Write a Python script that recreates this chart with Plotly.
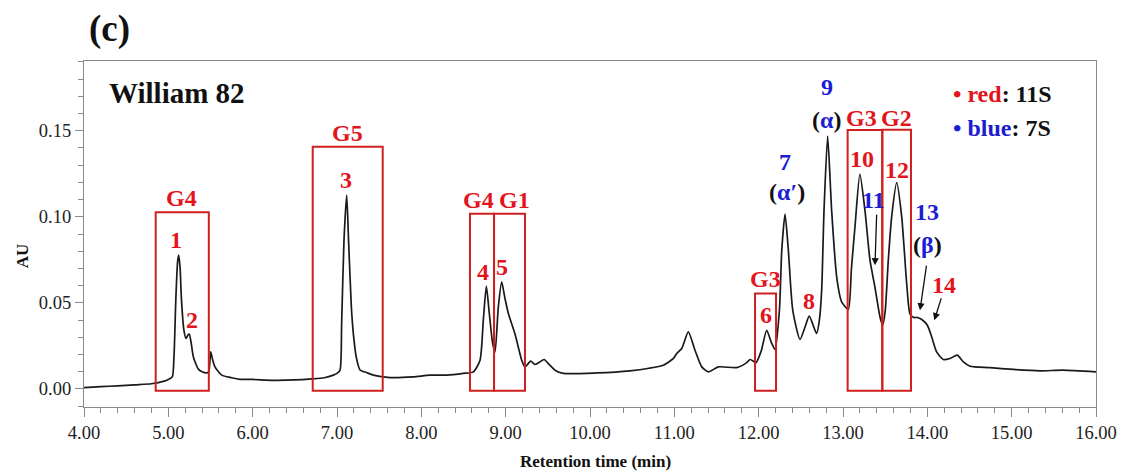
import plotly.graph_objects as go

# ---- chromatogram trace (retention time, absorbance) ----
time_min = [4.00, 4.20, 4.40, 4.60, 4.80, 4.95, 5.00, 5.047, 5.067, 5.09, 5.11, 5.123, 5.14, 5.154,
            5.185, 5.21, 5.235, 5.249, 5.27, 5.297, 5.356, 5.40, 5.455, 5.48, 5.502, 5.525, 5.553,
            5.633, 5.75, 5.85, 6.00, 6.25, 6.50, 6.70, 6.85, 6.957, 7.00, 7.036, 7.055, 7.083,
            7.115, 7.137, 7.17, 7.194, 7.23, 7.273, 7.35, 7.43, 7.63, 7.905, 8.10, 8.30, 8.498,
            8.617, 8.696, 8.735, 8.771, 8.806, 8.846, 8.874, 8.913, 8.953, 8.99, 9.032, 9.11,
            9.19, 9.229, 9.297, 9.347, 9.40, 9.455, 9.52, 9.585, 9.684, 10.08, 10.475, 10.70,
            10.87, 10.99, 11.028, 11.088, 11.166, 11.245, 11.325, 11.404, 11.522, 11.74, 11.85,
            11.90, 11.968, 12.03, 12.095, 12.15, 12.194, 12.246, 12.274, 12.313, 12.352, 12.404,
            12.49, 12.55, 12.60, 12.687, 12.72, 12.747, 12.775, 12.818, 12.865, 12.925, 12.984,
            13.063, 13.10, 13.142, 13.20, 13.26, 13.32, 13.378, 13.438, 13.47, 13.50, 13.537,
            13.577, 13.637, 13.696, 13.755, 13.795, 13.84, 13.882, 13.934, 14.00, 14.052, 14.11,
            14.19, 14.27, 14.355, 14.427, 14.506, 14.743, 15.02, 15.336, 15.61, 16.00]
absorbance = [0.0008, 0.0013, 0.0018, 0.0024, 0.0030, 0.0045, 0.0055, 0.0070, 0.0186, 0.0535,
              0.0740, 0.0777, 0.0700, 0.0535, 0.0340, 0.0293, 0.0315, 0.0318, 0.0270, 0.0186,
              0.0115, 0.0100, 0.0093, 0.0100, 0.0215, 0.0170, 0.0128, 0.0080, 0.0065, 0.0056,
              0.0055, 0.0050, 0.0052, 0.0058, 0.0065, 0.0080, 0.0090, 0.0109, 0.0380, 0.0864,
              0.1126, 0.0864, 0.0477, 0.0320, 0.0180, 0.0110, 0.0095, 0.0080, 0.0066, 0.0070,
              0.0080, 0.0080, 0.0090, 0.0099, 0.0167, 0.0400, 0.0597, 0.0438, 0.0264, 0.0215,
              0.0477, 0.0622, 0.0530, 0.0438, 0.0320, 0.0167, 0.0128, 0.0161, 0.0142, 0.0155,
              0.0171, 0.0140, 0.0109, 0.0090, 0.0093, 0.0105, 0.0120, 0.0138, 0.0177, 0.0206,
              0.0235, 0.0331, 0.0225, 0.0128, 0.0099, 0.0128, 0.0124, 0.0150, 0.0171, 0.0153,
              0.0220, 0.0341, 0.0270, 0.0229, 0.0458, 0.0806, 0.1016, 0.0806, 0.0458, 0.0287,
              0.0360, 0.0423, 0.0322, 0.0400, 0.0574, 0.1039, 0.1469, 0.1039, 0.0651, 0.0506,
              0.0462, 0.0700, 0.0942, 0.1248, 0.1039, 0.0748, 0.0593, 0.0419, 0.0370, 0.0450,
              0.0748, 0.1000, 0.1198, 0.1000, 0.0613, 0.0434, 0.0415, 0.0415, 0.0403, 0.0370,
              0.0302, 0.0215, 0.0171, 0.0177, 0.0196, 0.0157, 0.0132, 0.0124, 0.0113, 0.0105,
              0.0109, 0.0099]

# ---- axis ticks ----
x_tick_vals = [4, 5, 6, 7, 8, 9, 10, 11, 12, 13, 14, 15, 16]
x_tick_text = ["4.00", "5.00", "6.00", "7.00", "8.00", "9.00", "10.00", "11.00", "12.00",
               "13.00", "14.00", "15.00", "16.00"]
y_tick_vals = [0.0, 0.05, 0.10, 0.15]
y_tick_text = ["0.00", "0.05", "0.10", "0.15"]

# ---- glycinin group windows (red boxes) ----
group_names = ["G4", "G5", "G4", "G1", "G3", "G3", "G2"]
group_start = [4.85, 6.712, 8.577, 8.862, 11.957, 13.055, 13.466]
group_end = [5.48, 7.542, 8.862, 9.229, 12.206, 13.466, 13.806]
group_top = [0.1026, 0.1407, 0.1017, 0.1017, 0.0555, 0.1504, 0.1506]

# ---- peak labels ----
peak_ids = ["1", "2", "3", "4", "5", "6", "7", "8", "9", "10", "11", "12", "13", "14"]
peak_fraction = ["11S", "11S", "11S", "11S", "11S", "11S", "7S", "11S", "7S", "11S", "7S",
                 "11S", "7S", "11S"]
peak_subunit = {"7": "α′", "9": "α", "13": "β"}

RED = "#e3141b"
BOX_RED = "#d01f1f"
BLUE = "#1c1cd2"
FONT = "Liberation Serif, Times New Roman, serif"

# page geometry (the page body has an 8px margin, compensated below)
PAGE_OFF = 8
W, H = 1141 - PAGE_OFF, 472 - PAGE_OFF
L, R, T, B = 84, 1096, 61, 406.7          # plot area in window pixels
X0, X1 = 4.0, 16.0
Y0, Y1 = -0.0105, 0.1905


def px_x(px):
    return X0 + (px - L) / (R - L) * (X1 - X0)


def px_y(py):
    return Y0 + (B - py) / (B - T) * (Y1 - Y0)


def paper_x(px):
    return (px - L) / (R - L)


def paper_y(py):
    return (B - py) / (B - T)


fig = go.Figure()
fig.add_trace(go.Scatter(x=time_min, y=absorbance, mode="lines",
                         line=dict(color="#1a1a1a", width=1.7, shape="spline", smoothing=0.6),
                         hoverinfo="x+y", showlegend=False))

shapes = []
for g0, g1, gt in zip(group_start, group_end, group_top):
    shapes.append(dict(type="rect", xref="x", yref="y", x0=g0, x1=g1, y0=-0.001, y1=gt,
                       line=dict(color=BOX_RED, width=2), fillcolor="rgba(0,0,0,0)", layer="above"))

ann = []


def label(text, px, py, size=24, color=RED):
    ann.append(dict(text="<b>" + text + "</b>", x=px_x(px), y=px_y(py), xref="x", yref="y",
                    showarrow=False, font=dict(family=FONT, size=size, color=color),
                    xanchor="center", yanchor="middle"))


# group labels above boxes
group_label_px = [(181, 198.3), (347, 133.3), (478.6, 200), (514.6, 200), (765.4, 279.3),
                  (861.7, 118.3), (896.7, 118.3)]
for name, (px, py) in zip(group_names, group_label_px):
    label(name, px, py)

# peak number labels
peak_label_px = {"1": (175.7, 240), "2": (191.8, 319.3), "3": (345.7, 180), "4": (482.9, 271.7),
                 "5": (501.8, 266.7), "6": (765.6, 315), "7": (785, 161.7), "8": (809.4, 300.7),
                 "9": (827.3, 86.7), "10": (861.7, 159.3), "11": (873.4, 200),
                 "12": (897.2, 170), "13": (927.3, 211.7), "14": (944, 285)}
subunit_px = {"7": (786.7, 191.7), "9": (826, 120), "13": (927.3, 245)}
for pid, frac in zip(peak_ids, peak_fraction):
    px, py = peak_label_px[pid]
    label(pid, px, py, color=RED if frac == "11S" else BLUE)
    if pid in peak_subunit:
        sx, sy = subunit_px[pid]
        label("(<span style='color:%s'>%s</span>)" % (BLUE, peak_subunit[pid]), sx, sy,
              color="#111111")

# arrows for 11, 13, 14
for (tx, ty), (hx, hy) in [((876.7, 213), (875, 265)), ((926.7, 264), (920, 310)),
                           ((941.7, 296.7), (934.3, 320))]:
    ann.append(dict(x=px_x(hx), y=px_y(hy), ax=px_x(tx), ay=px_y(ty), xref="x", yref="y",
                    axref="x", ayref="y", showarrow=True, arrowhead=2, arrowsize=1.1,
                    arrowwidth=1.3, arrowcolor="#111111", text=""))

# legend text
ann.append(dict(text="<b><span style='color:%s'>• red</span>: 11S</b>" % RED,
                x=paper_x(951), y=paper_y(94.3), xref="paper", yref="paper", showarrow=False,
                xanchor="left", yanchor="middle", font=dict(family=FONT, size=24, color="#111111")))
ann.append(dict(text="<b><span style='color:%s'>• blue</span>: 7S</b>" % BLUE,
                x=paper_x(951), y=paper_y(128.3), xref="paper", yref="paper", showarrow=False,
                xanchor="left", yanchor="middle", font=dict(family=FONT, size=24, color="#111111")))

# sample name
ann.append(dict(text="<b>William 82</b>", x=paper_x(107), y=paper_y(93.3), xref="paper",
                yref="paper", showarrow=False, xanchor="left", yanchor="middle",
                font=dict(family=FONT, size=29, color="#111111")))
# panel letter
ann.append(dict(text="<b>(c)</b>", x=paper_x(87), y=paper_y(29), xref="paper", yref="paper",
                showarrow=False, xanchor="left", yanchor="middle",
                font=dict(family=FONT, size=37, color="#111111")))
# axis titles
ann.append(dict(text="<b>Retention time (min)</b>", x=paper_x(595.3), y=paper_y(461),
                xref="paper", yref="paper", showarrow=False, xanchor="center", yanchor="middle",
                font=dict(family=FONT, size=17, color="#111111")))
ann.append(dict(text="<b>AU</b>", x=paper_x(22), y=paper_y(256), xref="paper", yref="paper",
                showarrow=False, xanchor="center", yanchor="middle", textangle=-90,
                font=dict(family=FONT, size=17, color="#111111")))

axis_color = "#8a8a8a"
fig.update_layout(
    width=W, height=H,
    margin=dict(l=L - PAGE_OFF, r=W + PAGE_OFF - R, t=T - PAGE_OFF, b=H + PAGE_OFF - B),
    paper_bgcolor="white", plot_bgcolor="white",
    shapes=shapes, annotations=ann,
    font=dict(family=FONT, color="#222222"),
    xaxis=dict(range=[X0, X1], tickvals=x_tick_vals, ticktext=x_tick_text, ticks="outside",
               ticklen=9, tickwidth=1, tickcolor=axis_color, showline=True, linecolor=axis_color,
               linewidth=1.2, mirror=True, showgrid=False, zeroline=False,
               tickfont=dict(family=FONT, size=18.5, color="#222222"),
               minor=dict(dtick=0.2, ticks="outside", ticklen=5, tickcolor=axis_color)),
    yaxis=dict(range=[Y0, Y1], tickvals=y_tick_vals, ticktext=y_tick_text, ticks="outside",
               ticklen=8, tickwidth=1, tickcolor=axis_color, showline=True, linecolor=axis_color,
               linewidth=1.2, mirror=True, showgrid=False, zeroline=False,
               tickfont=dict(family=FONT, size=18.5, color="#222222"),
               minor=dict(tick0=0, dtick=0.01, ticks="outside", ticklen=5, tickcolor=axis_color)),
)

fig.write_html("out.html")
